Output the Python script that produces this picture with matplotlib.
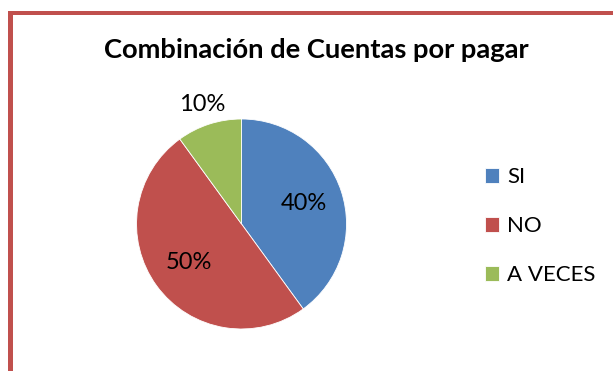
import matplotlib.pyplot as plt
import numpy as np
from matplotlib.patches import Rectangle

categorias = ['SI', 'NO', 'A VECES']
porcentajes = [40, 50, 10]
colores = ['#4F81BD', '#C0504D', '#9BBB59']
titulo = 'Combinación de Cuentas por pagar'

plt.rcParams['font.family'] = ['Lato', 'DejaVu Sans']

fig = plt.figure(figsize=(6.13, 3.71), dpi=100)

# pie axes: square box, radius 1 -> 105 px
ax = fig.add_axes([0.1542, 0.0, 0.4796, 0.7925])
wedges, texts, autotexts = ax.pie(porcentajes, colors=colores, startangle=90,
                                  counterclock=False, autopct='%1.0f%%',
                                  pctdistance=0.62,
                                  wedgeprops=dict(edgecolor='white', linewidth=0.6),
                                  textprops=dict(fontsize=17, color='black'))
ax.set_xlim(-1.4, 1.4)
ax.set_ylim(-1.4, 1.4)

# small slice label goes outside the pie
w = wedges[2]
ang = np.deg2rad((w.theta1 + w.theta2) / 2)
autotexts[2].set_position((1.2 * np.cos(ang), 1.2 * np.sin(ang)))

fig.text(0.516, 0.843, titulo, ha='center', va='baseline',
         fontsize=19.7, fontweight='bold')

fig.legend(wedges, categorias, loc='center left', bbox_to_anchor=(0.759, 0.39),
           frameon=False, fontsize=16, handlelength=0.64, handleheight=0.64,
           handletextpad=0.33, labelspacing=1.3)

# chart border (left and top edges visible)
borde = '#C0504D'
fig.add_artist(Rectangle((8 / 613, 0), 5 / 613, 1 - 11 / 371,
                         transform=fig.transFigure, color=borde, lw=0))
fig.add_artist(Rectangle((8 / 613, 1 - 15 / 371), 1, 4 / 371,
                         transform=fig.transFigure, color=borde, lw=0))

fig.savefig('out.png', dpi=100)
